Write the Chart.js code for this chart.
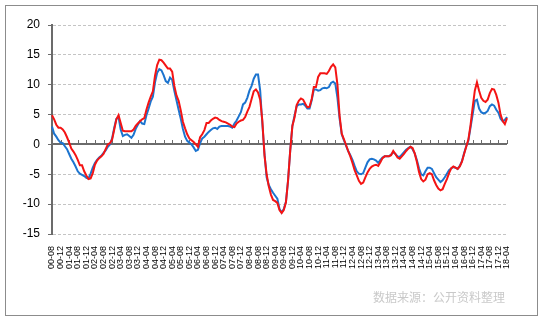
<!DOCTYPE html>
<html>
<head>
<meta charset="utf-8">
<script src="https://cdn.jsdelivr.net/npm/chart.js@4.4.0/dist/chart.umd.min.js"></script>
<style>
  html, body { margin: 0; padding: 0; background: #fff; }
  #wrap { position: relative; width: 548px; height: 321px; }
  canvas { position: absolute; left: 0; top: 0; }
  #frame { position: absolute; left: 5px; top: 5px; width: 531px; height: 309px; border: 1px solid #8c8c8c; }
  #src { position: absolute; right: 43px; top: 288px; font: 12px "Noto Sans CJK SC", sans-serif; color: #c9c9c9; white-space: nowrap; }
</style>
</head>
<body>
<div id="wrap">
  <canvas id="chart" width="548" height="321"></canvas>
  <div id="frame"></div>
  <div id="src">数据来源：公开资料整理</div>
</div>
<script>
// tick labels, every 4 months from 2000-08 to 2018-04
let tickLabels = ['00-08','00-12',
  '01-04','01-08','01-12','02-04','02-08','02-12','03-04','03-08','03-12',
  '04-04','04-08','04-12','05-04','05-08','05-12','06-04','06-08','06-12',
  '07-04','07-08','07-12','08-04','08-08','08-12','09-04','09-08','09-12',
  '10-04','10-08','10-12','11-04','11-08','11-12','12-04','12-08','12-12',
  '13-04','13-08','13-12','14-04','14-08','14-12','15-04','15-08','15-12',
  '16-04','16-08','16-12','17-04','17-08','17-12','18-04'];

// monthly values, 2000-08 .. 2018-04
let redSeries = [
  4.9, 4.2, 3.3, 2.8, 2.8, 2.5, 2.0, 1.2, 0.3, -0.7, -1.2, -1.8,
  -2.6, -3.5, -3.5, -4.5, -5.2, -5.8, -5.7, -4.8, -3.4, -2.7, -2.3, -2.0,
  -1.6, -0.8, 0.0, 0.2, 0.8, 2.5, 4.2, 4.9, 3.6, 2.3, 2.2, 2.2,
  2.2, 2.2, 2.5, 3.1, 3.5, 3.9, 4.2, 4.4, 5.8, 7.0, 8.0, 8.9,
  11.5, 13.3, 14.2, 14.1, 13.7, 13.2, 12.7, 12.7, 12.2, 9.8, 8.2, 7.3,
  5.7, 3.8, 2.7, 1.7, 1.0, 0.7, 0.4, 0.0, -0.4, 1.2, 1.7, 2.4,
  3.6, 3.6, 4.0, 4.3, 4.5, 4.4, 4.1, 3.9, 3.8, 3.7, 3.5, 3.3,
  3.0, 2.9, 3.5, 3.8, 4.0, 4.1, 4.6, 5.5, 6.3, 7.6, 8.9, 9.2,
  8.7, 7.5, 4.0, -1.8, -5.0, -7.0, -8.4, -9.3, -9.5, -9.8, -11.0, -11.5,
  -11.0, -9.7, -6.0, -1.0, 3.1, 4.5, 6.6, 7.3, 7.7, 7.5, 6.8, 6.2,
  6.3, 7.6, 9.6, 9.6, 11.3, 11.9, 11.9, 11.9, 11.8, 12.3, 13.0, 13.4,
  12.9, 10.0, 4.8, 1.8, 0.9, -0.1, -1.1, -2.0, -3.1, -4.3, -5.2, -6.1,
  -6.6, -6.4, -5.5, -4.7, -4.1, -3.7, -3.5, -3.4, -3.6, -3.0, -2.3, -2.0,
  -2.0, -2.0, -1.8, -1.1, -1.6, -2.2, -2.4, -2.0, -1.6, -1.1, -0.7, -0.4,
  -0.6, -1.5, -2.9, -4.6, -5.8, -6.2, -5.9, -5.0, -4.8, -5.0, -6.0, -6.8,
  -7.4, -7.7, -7.5, -6.6, -5.8, -4.8, -4.0, -3.7, -3.9, -4.1, -3.7, -2.9,
  -1.6, -0.4, 0.8, 3.2, 6.2, 9.0, 10.4, 9.0, 7.8, 7.3, 7.1, 7.5,
  8.6, 9.3, 9.2, 8.3, 7.0, 5.0, 3.9, 3.4, 4.4
];

let blueSeries = [
  3.0, 1.8, 1.3, 0.7, 0.3, 0.2, -0.3, -0.8, -1.6, -2.4, -3.0, -3.7,
  -4.5, -4.9, -5.1, -5.3, -5.6, -5.7, -4.9, -3.9, -3.1, -2.6, -2.2, -1.9,
  -1.4, -1.0, -0.4, 0.0, 1.0, 2.8, 4.3, 4.6, 2.5, 1.4, 1.6, 1.7,
  1.4, 1.1, 1.6, 2.6, 3.3, 3.9, 3.5, 3.4, 4.9, 6.0, 7.2, 8.0,
  10.4, 12.0, 12.6, 12.4, 11.6, 10.6, 10.3, 11.2, 10.8, 9.0, 7.4, 5.8,
  4.3, 2.6, 1.3, 0.6, 0.3, 0.0, -0.5, -1.1, -0.9, 0.2, 1.0, 1.3,
  1.7, 2.1, 2.4, 2.7, 2.8, 2.6, 3.0, 3.1, 3.1, 3.1, 3.1, 3.0,
  2.8, 3.5, 4.0, 4.7, 5.4, 6.7, 7.0, 7.8, 9.0, 9.8, 11.0, 11.7,
  11.7, 9.0, 3.5, -1.5, -5.5, -6.8, -7.5, -8.1, -8.6, -9.1, -10.8, -11.4,
  -10.8, -9.6, -6.0, -1.0, 3.1, 4.8, 6.4, 6.7, 6.7, 6.8, 6.5, 6.0,
  6.0, 7.4, 9.2, 9.2, 9.0, 9.1, 9.4, 9.5, 9.4, 9.6, 10.3, 10.5,
  10.2, 7.8, 4.3, 1.7, 0.7, -0.2, -1.1, -1.8, -2.6, -3.6, -4.5, -4.9,
  -5.0, -4.8, -3.9, -3.0, -2.5, -2.4, -2.5, -2.7, -3.1, -2.6, -2.2, -2.0,
  -2.0, -2.0, -1.7, -1.3, -1.6, -2.0, -2.1, -1.7, -1.3, -0.9, -0.6, -0.4,
  -0.8, -1.5, -2.6, -4.0, -5.0, -5.2, -4.5, -3.9, -3.9, -4.1, -4.8, -5.5,
  -5.9, -6.3, -6.0, -5.5, -4.9, -4.3, -4.0, -3.8, -3.9, -4.1, -3.6, -2.8,
  -1.5, -0.3, 0.6, 2.8, 5.0, 7.3, 7.5, 6.0, 5.4, 5.2, 5.3, 5.6,
  6.4, 6.7, 6.5, 5.8, 5.3, 4.3, 3.9, 4.1, 4.6
];

// one category per month
let months = [];
for (let i = 0; i < redSeries.length; i++) {
  let t = 7 + i;
  months.push(String(Math.floor(t / 12)).padStart(2, '0') + '-' + String(t % 12 + 1).padStart(2, '0'));
}

// x axis line crossing at 0, with small ticks every 4 months
const zeroAxis = {
  id: 'zeroAxis',
  beforeDatasetsDraw(chart) {
    const {ctx, chartArea, scales} = chart;
    const y0 = Math.round(scales.y.getPixelForValue(0));
    ctx.save();
    ctx.strokeStyle = '#6b6b6b';
    ctx.lineWidth = 1;
    ctx.beginPath();
    for (let i = 0; i < months.length; i += 4) {
      const px = Math.round(scales.x.getPixelForValue(i)) + 0.5;
      ctx.moveTo(px, y0 - 4);
      ctx.lineTo(px, y0);
    }
    ctx.stroke();
    ctx.lineWidth = 2;
    ctx.beginPath();
    ctx.moveTo(chartArea.left, y0);
    ctx.lineTo(chartArea.right, y0);
    ctx.stroke();
    ctx.restore();
  }
};

new Chart(document.getElementById('chart'), {
  type: 'line',
  data: {
    labels: months,
    datasets: [
      { data: redSeries, borderColor: '#f41414', borderWidth: 2, pointRadius: 0, order: 0 },
      { data: blueSeries, borderColor: '#1c74cf', borderWidth: 2, pointRadius: 0, order: 1 }
    ]
  },
  options: {
    responsive: false,
    animation: false,
    devicePixelRatio: 1,
    layout: { padding: { top: 25, right: 41, left: 0, bottom: 0 } },
    plugins: { legend: { display: false }, tooltip: { enabled: false } },
    scales: {
      x: {
        grid: { display: false },
        border: { display: false },
        ticks: {
          autoSkip: false,
          minRotation: 90,
          maxRotation: 90,
          padding: 4,
          color: '#000',
          font: { family: 'Liberation Sans, Arial', size: 9 },
          callback: (v, i) => (i % 4 === 0 ? tickLabels[i / 4] : null)
        },
        afterFit: (s) => { s.height = 87; }
      },
      y: {
        min: -15,
        max: 20,
        ticks: {
          stepSize: 5,
          padding: 8,
          color: '#000',
          font: { family: 'Liberation Sans, Arial', size: 12 }
        },
        grid: { color: '#c4c4c4', lineWidth: 1, tickLength: 4, tickColor: '#6b6b6b' },
        border: { display: true, color: '#6b6b6b', width: 2, dash: [3, 2] },
        afterFit: (s) => { s.width = 52; }
      }
    }
  },
  plugins: [zeroAxis]
});
</script>
</body>
</html>
